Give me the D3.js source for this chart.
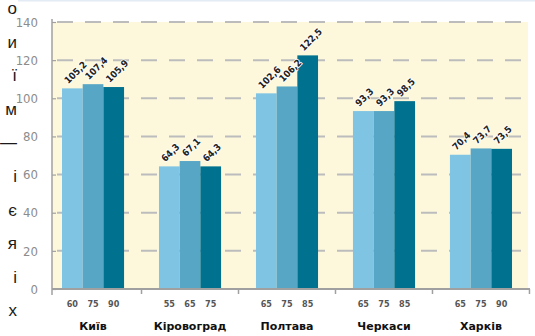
<!DOCTYPE html>
<html>
<head>
<meta charset="utf-8">
<script src="https://cdn.jsdelivr.net/npm/d3@7"></script>
<style>
  body { margin: 0; background: #fff; }
  svg { display: block; }
</style>
</head>
<body>
<div id="chart"></div>
<script>
// дані
const cities = ['Київ', 'Кіровоград', 'Полтава', 'Черкаси', 'Харків'];
const subLabels = [
    ['60', '75', '90'],
    ['55', '65', '75'],
    ['65', '75', '85'],
    ['65', '75', '85'],
    ['65', '75', '90']
];
const values = [
    [105.2, 107.4, 105.9],
    [64.3, 67.1, 64.3],
    [102.6, 106.2, 122.5],
    [93.3, 93.3, 98.5],
    [70.4, 73.7, 73.5]
];
const yTicks = [0, 20, 40, 60, 80, 100, 120, 140];
// обрізаний текст сторінки зліва
const sideChars = ['о', 'и', 'ї', 'м', '—', 'і', 'є', 'я', 'і', 'х'];

const width = 535;
const height = 336;
const colors = ['#80c4e4', '#58a6c6', '#00728f'];

const svg = d3.select('#chart')
    .append('svg')
    .attr('width', width)
    .attr('height', height);

// шкали
const y = d3.scaleLinear().domain([0, 140]).range([289, 22]);
const x0 = d3.scaleBand().domain(cities).range([52, 522])
    .paddingInner(0.36).paddingOuter(0.103);
const x1 = d3.scaleBand().domain([0, 1, 2]).range([0, x0.bandwidth()]);

// тонка лінія зверху
svg.append('rect')
    .attr('x', 18).attr('y', 0)
    .attr('width', width - 18).attr('height', 1.5)
    .style('fill', '#e3ecf4');

// фон
svg.append('rect')
    .attr('x', 52).attr('y', y(140))
    .attr('width', 528 - 52).attr('height', y(0) - y(140))
    .style('fill', '#fdf8dc');

// сітка
svg.append('g')
    .selectAll('line')
    .data(yTicks.filter(d => d > 0))
    .enter()
    .append('line')
    .attr('x1', 57).attr('x2', 531)
    .attr('y1', d => y(d)).attr('y2', d => y(d))
    .style('stroke', '#bcbcbc')
    .style('stroke-width', 2)
    .style('stroke-dasharray', '16,12');

// стовпчики
const groups = svg.append('g')
    .selectAll('g')
    .data(cities)
    .enter()
    .append('g')
    .attr('transform', d => `translate(${x0(d)},0)`);

groups.selectAll('rect')
    .data((d, i) => values[i].map((v, j) => ({ v, j })))
    .enter()
    .append('rect')
    .attr('x', d => x1(d.j))
    .attr('y', d => y(d.v))
    .attr('width', x1.bandwidth())
    .attr('height', d => y(0) - y(d.v))
    .style('fill', d => colors[d.j]);

// підписи значень
const fmt = v => d3.format('.1f')(v).replace('.', ',');
groups.selectAll('text.val')
    .data((d, i) => values[i].map((v, j) => ({ v, j })))
    .enter()
    .append('text')
    .attr('class', 'val')
    .attr('transform', d => `translate(${x1(d.j) + x1.bandwidth() / 2 - 4},${y(d.v) - 4}) rotate(-45)`)
    .text(d => fmt(d.v))
    .style('font-family', '"DejaVu Sans Condensed", "DejaVu Sans", sans-serif')
    .style('font-weight', 'bold')
    .style('font-size', '9.5px')
    .style('fill', '#222')
    .style('stroke', '#fff')
    .style('stroke-width', 1.6)
    .style('paint-order', 'stroke');

// підписи під стовпчиками
groups.selectAll('text.sub')
    .data((d, i) => subLabels[i].map((s, j) => ({ s, j })))
    .enter()
    .append('text')
    .attr('class', 'sub')
    .attr('x', d => x1(d.j) + x1.bandwidth() / 2)
    .attr('y', 307)
    .attr('text-anchor', 'middle')
    .text(d => d.s)
    .style('font-family', '"DejaVu Sans Condensed", "DejaVu Sans", sans-serif')
    .style('font-weight', 'bold')
    .style('font-size', '9px')
    .style('fill', '#555');

groups.append('text')
    .attr('x', x0.bandwidth() / 2)
    .attr('y', 330)
    .attr('text-anchor', 'middle')
    .text(d => d)
    .style('font-family', '"DejaVu Sans", sans-serif')
    .style('font-weight', 'bold')
    .style('font-size', '11px')
    .style('fill', '#111');

// вісь X
const step = x0.step();
const gap = step - x0.bandwidth();
svg.append('line')
    .attr('x1', 52).attr('x2', 530)
    .attr('y1', y(0)).attr('y2', y(0))
    .style('stroke', '#a0a0a0')
    .style('stroke-width', 2);

svg.append('g')
    .selectAll('line')
    .data(cities)
    .enter()
    .append('line')
    .attr('x1', d => x0(d) + x0.bandwidth() + gap / 2)
    .attr('x2', d => x0(d) + x0.bandwidth() + gap / 2)
    .attr('y1', y(0)).attr('y2', y(0) + 5)
    .style('stroke', '#a0a0a0')
    .style('stroke-width', 1.5);

// вісь Y
const yAxis = svg.append('g')
    .attr('transform', 'translate(52,0)')
    .call(d3.axisLeft(y).tickValues(yTicks).tickSize(0).tickPadding(14));

yAxis.select('.domain').remove();
yAxis.selectAll('text')
    .style('font-family', '"DejaVu Sans Condensed", "DejaVu Sans", sans-serif')
    .style('font-size', '13px')
    .style('fill', '#8c8c8c');

yAxis.selectAll('.tick')
    .append('line')
    .attr('x1', 0).attr('x2', 4)
    .style('stroke', '#a0a0a0')
    .style('stroke-width', 1.2);

svg.append('line')
    .attr('x1', 52).attr('x2', 52)
    .attr('y1', 19).attr('y2', 295)
    .style('stroke', '#a0a0a0')
    .style('stroke-width', 1.5);

// текст зліва
svg.append('g')
    .selectAll('text')
    .data(sideChars)
    .enter()
    .append('text')
    .attr('x', 17)
    .attr('y', (d, i) => 14 + i * 33.6)
    .attr('text-anchor', 'end')
    .text(d => d)
    .style('font-family', '"Liberation Sans", Arial, sans-serif')
    .style('font-size', '17px')
    .style('fill', '#1a1a1a');
</script>
</body>
</html>
